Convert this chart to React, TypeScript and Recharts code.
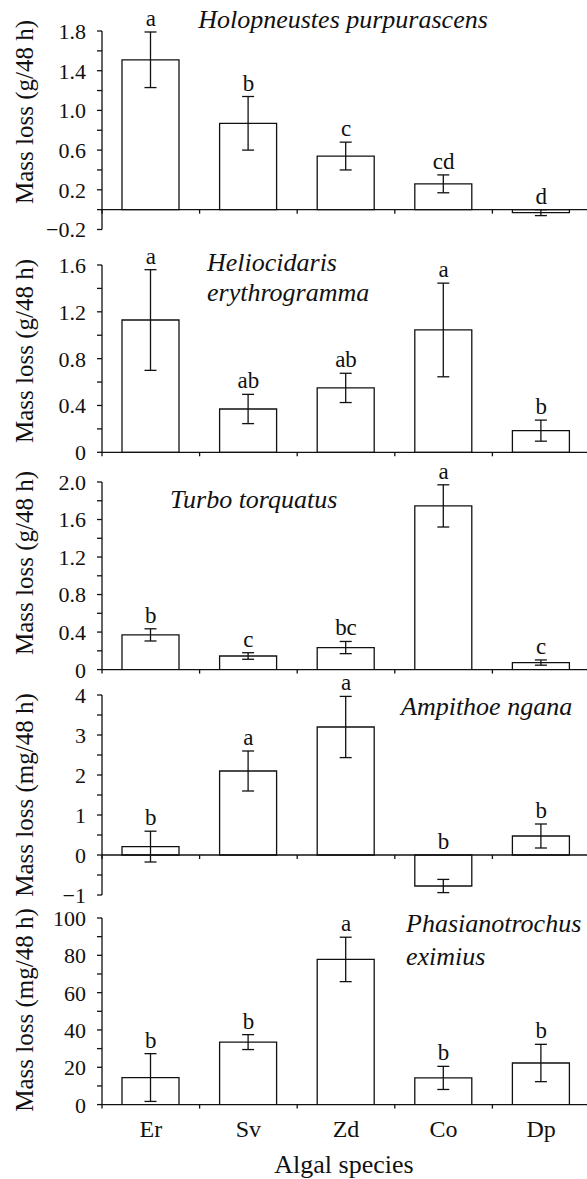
import {
  ComposedChart,
  Bar,
  Line,
  ErrorBar,
  LabelList,
  XAxis,
  YAxis,
  ReferenceLine,
} from "recharts";

const SERIF = '"Liberation Serif", "Times New Roman", "DejaVu Serif", serif';
const INK = "#111";

// Algal species (x categories)
const categories = ["Er", "Sv", "Zd", "Co", "Dp"];

// Holopneustes purpurascens (g/48 h)
const holoMean = [1.51, 0.87, 0.54, 0.26, -0.03];
const holoSE = [0.28, 0.27, 0.14, 0.09, 0.03];
const holoLetters = ["a", "b", "c", "cd", "d"];
const holoTicks = [-0.2, 0, 0.2, 0.4, 0.6, 0.8, 1.0, 1.2, 1.4, 1.6, 1.8];
const holoTickLabels = ["−0.2", "", "0.2", "", "0.6", "", "1.0", "", "1.4", "", "1.8"];

// Heliocidaris erythrogramma (g/48 h)
const helioMean = [1.13, 0.37, 0.55, 1.045, 0.185];
const helioSE = [0.43, 0.125, 0.125, 0.4, 0.09];
const helioLetters = ["a", "ab", "ab", "a", "b"];
const helioTicks = [0, 0.2, 0.4, 0.6, 0.8, 1.0, 1.2, 1.4, 1.6];
const helioTickLabels = ["0", "", "0.4", "", "0.8", "", "1.2", "", "1.6"];

// Turbo torquatus (g/48 h)
const turboMean = [0.37, 0.145, 0.235, 1.745, 0.075];
const turboSE = [0.065, 0.035, 0.065, 0.225, 0.028];
const turboLetters = ["b", "c", "bc", "a", "c"];
const turboTicks = [0, 0.2, 0.4, 0.6, 0.8, 1.0, 1.2, 1.4, 1.6, 1.8, 2.0];
const turboTickLabels = ["0", "", "0.4", "", "0.8", "", "1.2", "", "1.6", "", "2.0"];

// Ampithoe ngana (mg/48 h)
const ampMean = [0.21, 2.1, 3.2, -0.775, 0.475];
const ampSE = [0.385, 0.5, 0.765, 0.165, 0.3];
const ampLetters = ["b", "a", "a", "b", "b"];
const ampTicks = [-1, -0.5, 0, 0.5, 1, 1.5, 2, 2.5, 3, 3.5, 4];
const ampTickLabels = ["−1", "", "0", "", "1", "", "2", "", "3", "", "4"];

// Phasianotrochus eximius (mg/48 h)
const phasMean = [14.5, 33.5, 77.8, 14.3, 22.3];
const phasSE = [12.8, 4, 11.9, 6.2, 10];
const phasLetters = ["b", "b", "a", "b", "b"];
const phasTicks = [0, 10, 20, 30, 40, 50, 60, 70, 80, 90, 100];
const phasTickLabels = ["0", "", "20", "", "40", "", "60", "", "80", "", "100"];

function buildRows(mean: number[], se: number[], letters: string[]) {
  return categories.map((cat, i) => ({
    cat,
    mean: mean[i],
    se: se[i],
    letter: letters[i],
    labelAt: Math.max(mean[i] + se[i], 0),
  }));
}

// zero line with small downward ticks at the category boundaries
function ZeroAxis(props: any) {
  const { x1, y1, x2 } = props;
  if (x1 == null || y1 == null || x2 == null) return null;
  const n = categories.length;
  const step = (x2 - x1) / n;
  return (
    <g>
      <line x1={x1} y1={y1} x2={x2} y2={y1} stroke={INK} strokeWidth={1.3} />
      {Array.from({ length: n + 1 }, (_, i) => (
        <line
          key={i}
          x1={x1 + i * step}
          x2={x1 + i * step}
          y1={y1}
          y2={y1 + 4}
          stroke={INK}
          strokeWidth={1.3}
        />
      ))}
    </g>
  );
}

function letterLabel(props: any) {
  const { x, y, value } = props;
  return (
    <text
      x={x}
      y={y - 6}
      textAnchor="middle"
      style={{ fontFamily: SERIF, fontSize: 23 }}
      fill={INK}
    >
      {value}
    </text>
  );
}

interface PanelProps {
  mean: number[];
  se: number[];
  letters: string[];
  ticks: number[];
  tickLabels: string[];
  top: number; // pixel of the top tick
  bottom: number; // pixel of the bottom tick
  showCategories?: boolean;
}

function Panel({ mean, se, letters, ticks, tickLabels, top, bottom, showCategories }: PanelProps) {
  const rows = buildRows(mean, se, letters);
  const padTop = 30;
  const padBottom = showCategories ? 0 : 30;
  const xHeight = showCategories ? 45 : 0;
  const height = bottom - top + padTop + padBottom + xHeight;

  const yTick = (p: any) => {
    const i = ticks.indexOf(p.payload.value);
    const text = i >= 0 ? tickLabels[i] : "";
    if (!text) return <g />;
    return (
      <text
        x={p.x}
        y={p.y}
        dy="0.36em"
        textAnchor="end"
        style={{ fontFamily: SERIF, fontSize: 22 }}
        fill={INK}
      >
        {text}
      </text>
    );
  };

  const xTick = (p: any) => (
    <text
      x={p.x}
      y={p.y + 32}
      textAnchor="middle"
      style={{ fontFamily: SERIF, fontSize: 24 }}
      fill={INK}
    >
      {p.payload.value}
    </text>
  );

  return (
    <div style={{ position: "absolute", left: 0, top: top - padTop }}>
      <ComposedChart
        width={587}
        height={height}
        data={rows}
        margin={{ top: padTop, bottom: padBottom, left: 0, right: -3 }}
      >
        <XAxis
          dataKey="cat"
          hide={!showCategories}
          height={xHeight}
          axisLine={false}
          tickLine={false}
          tickSize={0}
          tickMargin={0}
          tick={xTick}
          interval={0}
        />
        <YAxis
          width={102}
          domain={[ticks[0], ticks[ticks.length - 1]]}
          ticks={ticks}
          interval={0}
          allowDataOverflow
          axisLine={{ stroke: INK, strokeWidth: 1.3 }}
          tickLine={{ stroke: INK, strokeWidth: 1.3 }}
          tickSize={5}
          tickMargin={11}
          tick={yTick}
        />
        <Bar
          dataKey="mean"
          fill="#fff"
          stroke={INK}
          strokeWidth={1.3}
          barSize={57}
          isAnimationActive={false}
        >
          <ErrorBar
            dataKey="se"
            direction="y"
            width={6}
            stroke={INK}
            strokeWidth={1.3}
            isAnimationActive={false}
          />
        </Bar>
        <ReferenceLine y={0} shape={ZeroAxis} />
        <Line
          dataKey="labelAt"
          stroke="none"
          dot={false}
          activeDot={false}
          legendType="none"
          isAnimationActive={false}
        >
          <LabelList dataKey="letter" content={letterLabel} />
        </Line>
      </ComposedChart>
    </div>
  );
}

export default function App() {
  const titleStyle = { fontFamily: SERIF, fontSize: 26, fontStyle: "italic" as const };
  const axisTitle = { fontFamily: SERIF, fontSize: 25 };
  const yLabels = [
    { text: "Mass loss (g/48 h)", cy: 112 },
    { text: "Mass loss (g/48 h)", cy: 351 },
    { text: "Mass loss (g/48 h)", cy: 563 },
    { text: "Mass loss (mg/48 h)", cy: 795 },
    { text: "Mass loss (mg/48 h)", cy: 1010 },
  ];
  return (
    <div
      style={{
        position: "absolute",
        left: 0,
        top: 0,
        width: 587,
        height: 1179,
        background: "#fff",
        overflow: "hidden",
        fontFamily: SERIF,
      }}
    >
      <Panel mean={holoMean} se={holoSE} letters={holoLetters} ticks={holoTicks} tickLabels={holoTickLabels} top={31} bottom={229.5} />
      <Panel mean={helioMean} se={helioSE} letters={helioLetters} ticks={helioTicks} tickLabels={helioTickLabels} top={265} bottom={452.3} />
      <Panel mean={turboMean} se={turboSE} letters={turboLetters} ticks={turboTicks} tickLabels={turboTickLabels} top={481.7} bottom={669.3} />
      <Panel mean={ampMean} se={ampSE} letters={ampLetters} ticks={ampTicks} tickLabels={ampTickLabels} top={695} bottom={895} />
      <Panel mean={phasMean} se={phasSE} letters={phasLetters} ticks={phasTicks} tickLabels={phasTickLabels} top={917.7} bottom={1104.3} showCategories />

      <svg
        width={587}
        height={1179}
        style={{ position: "absolute", left: 0, top: 0, pointerEvents: "none" }}
      >
        <text x={343} y={28} textAnchor="middle" fill={INK} style={titleStyle}>Holopneustes purpurascens</text>
        <text x={207} y={271} fill={INK} style={titleStyle}>Heliocidaris</text>
        <text x={207} y={301} fill={INK} style={titleStyle}>erythrogramma</text>
        <text x={170} y={508} fill={INK} style={titleStyle}>Turbo torquatus</text>
        <text x={401} y={715} fill={INK} style={titleStyle}>Ampithoe ngana</text>
        <text x={406} y={932} fill={INK} style={titleStyle}>Phasianotrochus</text>
        <text x={406} y={965} fill={INK} style={titleStyle}>eximius</text>
        {yLabels.map((l) => (
          <text
            key={l.cy}
            x={33}
            y={l.cy}
            textAnchor="middle"
            fill={INK}
            transform={`rotate(-90, 33, ${l.cy})`}
            style={axisTitle}
          >
            {l.text}
          </text>
        ))}
        <text x={344} y={1173} textAnchor="middle" fill={INK} style={{ fontFamily: SERIF, fontSize: 26 }}>
          Algal species
        </text>
      </svg>
    </div>
  );
}
